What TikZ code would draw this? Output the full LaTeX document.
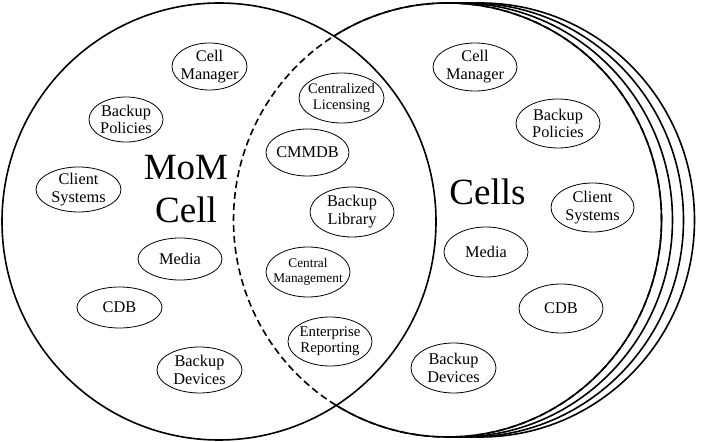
\documentclass[tikz,border=0pt]{standalone}
\usepackage{fontspec}
\setmainfont{Liberation Serif}
\usetikzlibrary{shapes.geometric,calc}
\tikzset{
  bubble/.style={ellipse, draw, line width=0.8pt, inner sep=-10pt, align=center,
    font=\fontsize{16.3}{17.8}\selectfont},
  bigcircle/.style={line width=1.6pt},
  biglabel/.style={align=center, inner sep=0pt, font=\fontsize{37}{43}\selectfont},
}
\begin{document}
\begin{tikzpicture}[x=1pt,y=1pt]
\useasboundingbox (0,0) rectangle (702,442);
% stacked cell circles (back to front)
\foreach \s in {33,22,11}{
  \fill[white] (447.5+\s,222) ellipse [x radius=214, y radius=217];
  \draw[bigcircle] (447.5+\s,222) ellipse [x radius=214, y radius=217];
}
\fill[white] (447.5,222) ellipse [x radius=214, y radius=217];
% MoM cell circle
\draw[bigcircle] (219,220.5) ellipse [x radius=217, y radius=218.5];
% front cells circle: dashed inside the MoM cell, solid outside
\draw[bigcircle, dash pattern=on 7pt off 4pt] (447.5,222) ellipse [x radius=214, y radius=217];
\draw[bigcircle] ($(447.5,222)+(122:214 and 217)$) arc [start angle=122, end angle=-121.4, x radius=214, y radius=217];

% big labels
\node[biglabel] (mom) at (186,253) {MoM\\Cell};
\node[biglabel] (cells) at (487.5,250.5) {Cells};

% MoM cell bubbles
\node[bubble, minimum width=75pt, minimum height=47pt] (lcm) at (209.5,375.5) {Cell\\Manager};
\node[bubble, minimum width=74pt, minimum height=45pt] (lbp) at (126,322.5) {Backup\\Policies};
\node[bubble, minimum width=85pt, minimum height=45pt] (lcs) at (78.5,252.5) {Client\\Systems};
\node[bubble, minimum width=84pt, minimum height=42pt] (lmed) at (180,183) {Media};
\node[bubble, minimum width=85pt, minimum height=41pt] (lcdb) at (119.5,134.5) {CDB};
\node[bubble, minimum width=85pt, minimum height=46pt] (lbd) at (199.5,72) {Backup\\Devices};

% shared bubbles
\node[bubble, minimum width=85pt, minimum height=50pt, font=\fontsize{14.5}{16}\selectfont] (ccl) at (341.5,344) {Centralized\\Licensing};
\node[bubble, minimum width=83pt, minimum height=47pt] (cmm) at (307.5,289.5) {CMMDB};
\node[bubble, minimum width=84pt, minimum height=50pt] (cbl) at (352,230) {Backup\\Library};
\node[bubble, minimum width=84pt, minimum height=50pt, font=\fontsize{13.3}{15}\selectfont] (ccm) at (308,170) {Central\\Management};
\node[bubble, minimum width=84pt, minimum height=49pt, font=\fontsize{14.8}{16}\selectfont] (cer) at (330,100.5) {Enterprise\\Reporting};

% cells bubbles
\node[bubble, minimum width=84pt, minimum height=48pt] (rcm) at (475,375) {Cell\\Manager};
\node[bubble, minimum width=84pt, minimum height=49pt] (rbp) at (558,318.5) {Backup\\Policies};
\node[bubble, minimum width=83pt, minimum height=49pt] (rcs) at (592.5,234.5) {Client\\Systems};
\node[bubble, minimum width=84pt, minimum height=50pt] (rmed) at (486,190) {Media};
\node[bubble, minimum width=84pt, minimum height=49pt] (rcdb) at (561,133.5) {CDB};
\node[bubble, minimum width=85pt, minimum height=50pt] (rbd) at (453.5,74) {Backup\\Devices};
\end{tikzpicture}
\end{document}
